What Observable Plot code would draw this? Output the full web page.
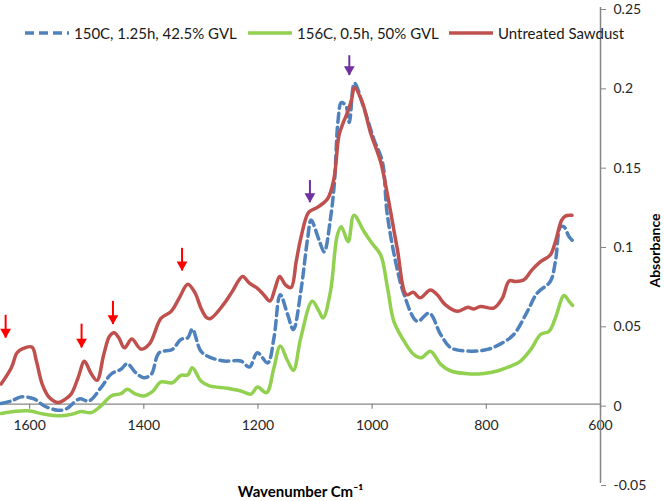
<!DOCTYPE html>
<html><head><meta charset="utf-8">
<script src="https://cdn.jsdelivr.net/npm/d3@7"></script>
<script src="https://cdn.jsdelivr.net/npm/@observablehq/plot@0.6"></script>
<style>
body{margin:0;background:#fff;}
#wrap{position:relative;width:664px;height:501px;font-family:Lato,"Liberation Sans",sans-serif;}
#legend{position:absolute;left:0;top:0;width:664px;height:60px;}
.item{position:absolute;top:23px;height:20px;display:flex;align-items:center;font-size:15px;color:#1a1a1a;white-space:nowrap;}
.item svg{margin-right:5px;}
</style></head><body><div id="wrap"><div id="chart"></div><div id="legend"></div></div>
<script>
// ---- Data ----
const seriesNames = ["150C, 1.25h, 42.5% GVL", "156C, 0.5h, 50% GVL", "Untreated Sawdust"];
const seriesColors = ["#4F81BD", "#92D050", "#C0504D"];

const blueWn  = [1650,1632,1615,1592,1575,1551,1536,1513,1496,1475,1457,1440,1429,1414,1400,1387,1373,1350,1335,1323,1315,1300,1285,1259,1230,1215,1201,1183,1172,1161,1148,1138,1125,1113,1107,1093,1084,1073,1066,1060,1054,1046,1040,1031,1014,997,982,974,959,944,921,900,880,862,827,798,775,752,728,711,688,679,670,664,655,648];
const blueAbs = [0.0004,0.002,0.0046,0.0033,-0.001,-0.0038,-0.003,0.0033,0.002,0.0104,0.019,0.022,0.0255,0.0198,0.0167,0.0188,0.0324,0.0345,0.0408,0.0418,0.0474,0.0334,0.0297,0.0272,0.0272,0.0234,0.0324,0.026,0.0418,0.069,0.0564,0.047,0.071,0.1045,0.116,0.1035,0.096,0.117,0.140,0.1776,0.190,0.188,0.1775,0.2023,0.186,0.167,0.1526,0.121,0.0899,0.069,0.0522,0.0574,0.0439,0.0355,0.0334,0.0345,0.038,0.0439,0.0585,0.070,0.0773,0.0899,0.1118,0.1118,0.1055,0.1028];

const greenWn  = [1650,1627,1603,1574,1545,1525,1510,1492,1475,1457,1440,1429,1414,1400,1385,1370,1350,1335,1323,1315,1300,1285,1254,1230,1212,1201,1185,1172,1161,1148,1138,1125,1105,1093,1086,1073,1061,1054,1042,1032,1014,1000,985,973,962,944,927,914,898,880,862,833,804,781,757,740,722,705,690,679,664,655,649];
const greenAbs = [-0.0059,-0.0046,-0.0042,-0.0063,-0.0073,-0.0063,-0.0046,-0.0053,-0.0011,0.0052,0.0066,0.0094,0.0063,0.0052,0.0079,0.014,0.0135,0.0182,0.0184,0.023,0.0146,0.0115,0.010,0.0083,0.0063,0.0108,0.0073,0.023,0.0366,0.0272,0.0213,0.0418,0.0648,0.0585,0.0543,0.071,0.1066,0.1118,0.1024,0.119,0.1087,0.1013,0.094,0.0731,0.0522,0.0397,0.0313,0.0292,0.0334,0.0251,0.0209,0.0192,0.0194,0.0209,0.024,0.0272,0.0345,0.0439,0.046,0.0543,0.0685,0.0648,0.0622];

const redWn  = [1650,1632,1622,1612,1596,1588,1578,1565,1550,1538,1527,1515,1504,1493,1482,1470,1460,1452,1444,1434,1421,1405,1390,1370,1352,1338,1323,1310,1300,1290,1283,1260,1245,1227,1215,1201,1190,1179,1170,1162,1152,1142,1133,1125,1111,1096,1078,1067,1058,1050,1043,1036,1031,1017,1003,985,973,956,940,928,916,898,886,872,851,833,822,810,787,772,760,749,734,720,705,688,679,668,661,650];
const redAbs = [0.0127,0.023,0.0324,0.035,0.036,0.027,0.0127,0.004,0.001,0.003,0.0065,0.0167,0.027,0.0198,0.015,0.0315,0.0428,0.045,0.042,0.0355,0.041,0.0347,0.038,0.054,0.0585,0.0668,0.0756,0.070,0.0606,0.0545,0.054,0.063,0.071,0.0805,0.0763,0.073,0.069,0.065,0.073,0.0805,0.0752,0.0735,0.090,0.1045,0.121,0.124,0.1295,0.142,0.1695,0.178,0.184,0.192,0.1996,0.190,0.1713,0.1526,0.1317,0.098,0.069,0.0705,0.067,0.072,0.069,0.0627,0.0585,0.061,0.060,0.0616,0.0606,0.0668,0.0777,0.0773,0.0784,0.0846,0.0898,0.094,0.1024,0.116,0.1187,0.119];

const arrowWn    = [1642, 1509, 1454, 1333, 1109, 1040];
const arrowTop   = [0.056, 0.0504, 0.0648, 0.0982, 0.141, 0.2196];
const arrowTip   = [0.0416, 0.0354, 0.0502, 0.084, 0.127, 0.2071];
const arrowColor = ["#FF0000","#FF0000","#FF0000","#FF0000","#7030A0","#7030A0"];

const xTicks = [1600, 1400, 1200, 1000, 800, 600];
const yTicks = [-0.05, 0, 0.05, 0.1, 0.15, 0.2, 0.25];
const yTickLabels = ["-0.05", "0", "0.05", "0.1", "0.15", "0.2", "0.25"];

const xTitle = "Wavenumber Cm\u207B\u00B9";
const yTitle = "Absorbance";

// ---- Build tables ----
const zip = (wn, ab, name) => wn.map((w, i) => ({wn: w, abs: ab[i], series: name}));
const blue = zip(blueWn, blueAbs, seriesNames[0]);
const green = zip(greenWn, greenAbs, seriesNames[1]);
const red = zip(redWn, redAbs, seriesNames[2]);
const arrows = arrowWn.map((w, i) => ({wn: w, top: arrowTop[i], tip: arrowTip[i], color: arrowColor[i]}));

const downHead = {
  draw(ctx, size) {
    const s = Math.sqrt(size * 4 / Math.sqrt(3));
    const h = s * Math.sqrt(3) / 2;
    ctx.moveTo(0, 0);
    ctx.lineTo(-s / 2, -h);
    ctx.lineTo(s / 2, -h);
    ctx.closePath();
  }
};

const gray = "#868686";
const font = "Lato, 'Liberation Sans', sans-serif";

const chart = Plot.plot({
  width: 664,
  height: 501,
  marginLeft: 0,
  marginRight: 64,
  marginTop: 7,
  marginBottom: 18,
  style: {fontFamily: font, fontSize: "14px", color: "#262626", background: "#fff"},
  x: {domain: [1651, 600], axis: null},
  y: {domain: [-0.05, 0.25], axis: null},
  marks: [
    Plot.ruleY([0], {stroke: gray, strokeWidth: 1.2}),
    Plot.ruleX(xTicks, {x: d => d, y1: 0, y2: 0, insetBottom: -5, stroke: gray, strokeWidth: 1.2}),
    Plot.text(xTicks, {x: d => d, y: 0, dy: 21, text: d => String(d), fontSize: 14, fill: "#262626"}),
    Plot.ruleX([600], {stroke: gray, strokeWidth: 1.5}),
    Plot.axisY({anchor: "right", ticks: yTicks, tickFormat: (d) => yTickLabels[yTicks.indexOf(d)], tickSize: 5, tickPadding: 8, dy: 2, stroke: gray, fontSize: 14, label: null}),
    Plot.line(blue, {x: "wn", y: "abs", stroke: seriesColors[0], strokeWidth: 3.5, strokeDasharray: "9,5", curve: "catmull-rom"}),
    Plot.line(green, {x: "wn", y: "abs", stroke: seriesColors[1], strokeWidth: 3.5, curve: "catmull-rom"}),
    Plot.line(red, {x: "wn", y: "abs", stroke: seriesColors[2], strokeWidth: 3.5, curve: "catmull-rom"}),
    Plot.ruleX(arrows, {x: "wn", y1: "top", y2: "tip", stroke: "color", strokeWidth: 2}),
    Plot.dot(arrows, {x: "wn", y: "tip", symbol: downHead, r: 4, fill: "color", stroke: "none"}),
    Plot.text([xTitle], {frameAnchor: "bottom", dy: 9, dx: 0, text: d => d, fontWeight: "bold", fontSize: 15, fill: "#000", lineAnchor: "middle"}),
    Plot.text([yTitle], {frameAnchor: "right", dx: 55, dy: 5, rotate: -90, text: d => d, fontWeight: "bold", fontSize: 14, fill: "#000", textAnchor: "middle", lineAnchor: "middle"})
  ]
});
document.getElementById("chart").appendChild(chart);

// ---- Legend (HTML overlay) ----
const legend = document.getElementById("legend");
const legendLeft = [25, 248, 449];
seriesNames.forEach((name, i) => {
  const item = document.createElement("div");
  item.className = "item";
  item.style.left = legendLeft[i] + "px";
  const dash = i === 0 ? ' stroke-dasharray="9,5"' : '';
  item.innerHTML = `<svg width="44" height="10"><line x1="0" y1="5" x2="44" y2="5" stroke="${seriesColors[i]}" stroke-width="3.5"${dash}/></svg><span>${name}</span>`;
  legend.appendChild(item);
});
</script></body></html>
